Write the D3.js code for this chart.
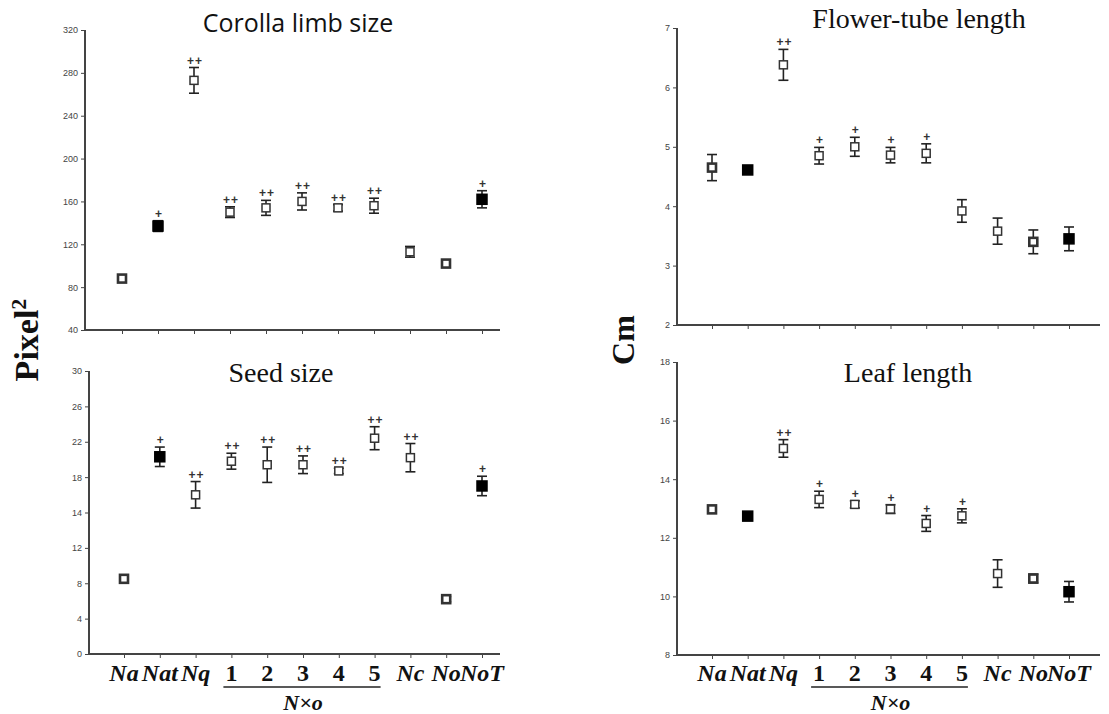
<!DOCTYPE html>
<html>
<head>
<meta charset="utf-8">
<script src="https://cdn.jsdelivr.net/npm/d3@7"></script>
<style>
  body { margin: 0; background: #fff; }
  svg { display: block; }
</style>
</head>
<body>
<div id="viz"></div>
<script>
// categories along every x axis
var cats = ["Na", "Nat", "Nq", "1", "2", "3", "4", "5", "Nc", "No", "NoT"];
var marker = ["bold", "filled", "open", "open", "open", "open", "open", "open", "open", "bold", "filled"];

// Corolla limb size (pixel^2)
var corollaMean = [88, 137, 273, 150, 154, 160, 154, 156, 113, 102, 162];
var corollaErr  = [3, 5, 12, 5, 7, 8, 3, 7, 5, 3, 8];
var corollaSig  = ["", "+", "++", "++", "++", "++", "++", "++", "", "", "+"];
var corollaTicks = [40, 80, 120, 160, 200, 240, 280, 320];

// Seed size (pixel^2) - the axis labels are unevenly spaced in the original
var seedMean = [8.5, 20.3, 16.0, 19.8, 19.4, 19.4, 18.7, 22.4, 20.2, 6.2, 17.0];
var seedErr  = [0.4, 1.1, 1.5, 0.9, 2.0, 1.0, 0.3, 1.3, 1.6, 0.3, 1.1];
var seedSig  = ["", "+", "++", "++", "++", "++", "++", "++", "++", "", "+"];
var seedTicks = [0, 4, 8, 12, 14, 18, 22, 26, 30];

// Flower-tube length (cm)
var tubeMean = [4.65, 4.61, 6.38, 4.85, 5.0, 4.86, 4.89, 3.92, 3.58, 3.40, 3.45];
var tubeErr  = [0.22, 0.04, 0.26, 0.14, 0.16, 0.13, 0.16, 0.19, 0.22, 0.2, 0.2];
var tubeSig  = ["", "", "++", "+", "+", "+", "+", "", "", "", ""];
var tubeTicks = [2, 3, 4, 5, 6, 7];

// Leaf length (cm)
var leafMean = [12.97, 12.74, 15.05, 13.31, 13.14, 12.98, 12.49, 12.75, 10.78, 10.61, 10.16];
var leafErr  = [0.05, 0.1, 0.3, 0.28, 0.12, 0.15, 0.27, 0.24, 0.47, 0.15, 0.35];
var leafSig  = ["", "", "++", "+", "+", "+", "+", "+", "", "", ""];
var leafTicks = [8, 10, 12, 14, 16, 18];

var svg = d3.select("#viz").append("svg").attr("width", 1109).attr("height", 714);

function panel(o) {
  var g = svg.append("g");
  var x = d3.scalePoint().domain(cats).range([o.x0, o.x1]);
  // piecewise scale so ticks sit evenly even when labels are not
  var y = d3.scaleLinear()
    .domain(o.ticks)
    .range(o.ticks.map(function(d, i) { return o.bottom - i * (o.bottom - o.top) / (o.ticks.length - 1); }));

  var ya = g.append("g").attr("transform", "translate(" + o.ax + ",0)")
    .call(d3.axisLeft(y).tickValues(o.ticks).tickSize(4).tickSizeOuter(0).tickFormat(d3.format("d")));
  ya.select(".domain").remove();
  ya.selectAll("line").attr("stroke", "#444");
  ya.selectAll("text").style("font-family", "Liberation Sans, Arial").style("font-size", "9px").attr("fill", "#444");

  var xa = g.append("g").attr("transform", "translate(0," + o.bottom + ")")
    .call(d3.axisBottom(x).tickSize(4).tickFormat(""));
  xa.select(".domain").remove();
  xa.selectAll("line").attr("stroke", "#444");

  g.append("line").attr("x1", o.ax).attr("x2", o.ax).attr("y1", o.top).attr("y2", o.bottom)
    .attr("stroke", "#444").attr("stroke-width", 2);
  g.append("line").attr("x1", o.ax - 1).attr("x2", o.xEnd).attr("y1", o.bottom).attr("y2", o.bottom)
    .attr("stroke", "#444").attr("stroke-width", 2);

  g.append("text").attr("x", o.tx).attr("y", o.ty).attr("text-anchor", "middle")
    .style("font-family", o.tfont).style("font-size", o.tsize + "px").attr("fill", "#111")
    .text(o.title);

  var pts = g.selectAll(".pt").data(cats).enter().append("g").attr("class", "pt")
    .attr("transform", function(d) { return "translate(" + x(d) + ",0)"; });

  pts.append("line")
    .attr("y1", function(d, i) { return y(o.mean[i] + o.err[i]); })
    .attr("y2", function(d, i) { return y(o.mean[i] - o.err[i]); })
    .attr("stroke", "#222").attr("stroke-width", 1.6);
  pts.append("line").attr("x1", -5).attr("x2", 5)
    .attr("y1", function(d, i) { return y(o.mean[i] + o.err[i]); })
    .attr("y2", function(d, i) { return y(o.mean[i] + o.err[i]); })
    .attr("stroke", "#222").attr("stroke-width", 1.6);
  pts.append("line").attr("x1", -5).attr("x2", 5)
    .attr("y1", function(d, i) { return y(o.mean[i] - o.err[i]); })
    .attr("y2", function(d, i) { return y(o.mean[i] - o.err[i]); })
    .attr("stroke", "#222").attr("stroke-width", 1.6);

  pts.append("rect")
    .attr("x", function(d, i) { return marker[i] == "filled" ? -5 : -4; })
    .attr("y", function(d, i) { return y(o.mean[i]) - (marker[i] == "filled" ? 5 : 4); })
    .attr("width", function(d, i) { return marker[i] == "filled" ? 10 : 8; })
    .attr("height", function(d, i) { return marker[i] == "filled" ? 10 : 8; })
    .attr("fill", function(d, i) { return marker[i] == "filled" ? "#000" : "#fff"; })
    .attr("stroke", function(d, i) { return marker[i] == "filled" ? "#000" : "#333"; })
    .attr("stroke-width", function(d, i) { return marker[i] == "bold" ? 2.6 : 1.5; });

  pts.append("text")
    .attr("x", 1)
    .attr("y", function(d, i) { return y(o.mean[i] + o.err[i]) - 3; })
    .attr("text-anchor", "middle")
    .style("font-family", "Liberation Sans, Arial").style("font-size", "12px").style("font-weight", "bold")
    .style("letter-spacing", "1px")
    .attr("fill", "#333")
    .text(function(d, i) { return o.sig[i]; });

  return x;
}

function catLabels(x) {
  var g = svg.append("g");
  g.selectAll("text").data(cats).enter().append("text")
    .attr("x", function(d) { return x(d); })
    .attr("y", 681)
    .attr("text-anchor", "middle")
    .style("font-family", "Liberation Serif, Times New Roman")
    .style("font-size", "24px").style("font-weight", "bold")
    .style("font-style", function(d) { return isNaN(+d) ? "italic" : "normal"; })
    .attr("fill", "#111")
    .text(function(d) { return d; });
  g.append("line").attr("x1", x("1") - 8).attr("x2", x("5") + 6).attr("y1", 687).attr("y2", 687)
    .attr("stroke", "#222").attr("stroke-width", 1.5);
  g.append("text").attr("x", (x("1") + x("5")) / 2).attr("y", 710).attr("text-anchor", "middle")
    .style("font-family", "Liberation Serif, Times New Roman").style("font-size", "22px")
    .style("font-weight", "bold").style("font-style", "italic").attr("fill", "#111")
    .text("N×o");
}

panel({ax: 85, top: 30, bottom: 330, x0: 122, x1: 482, xEnd: 500, ticks: corollaTicks,
  mean: corollaMean, err: corollaErr, sig: corollaSig,
  title: "Corolla limb size", tx: 298, ty: 32, tfont: "Open Sans, Liberation Sans", tsize: 25});
var xl = panel({ax: 89, top: 371, bottom: 654, x0: 124, x1: 482, xEnd: 500, ticks: seedTicks,
  mean: seedMean, err: seedErr, sig: seedSig,
  title: "Seed size", tx: 281, ty: 382, tfont: "Liberation Serif, Times New Roman", tsize: 28});
panel({ax: 677, top: 28, bottom: 325, x0: 712, x1: 1069, xEnd: 1100, ticks: tubeTicks,
  mean: tubeMean, err: tubeErr, sig: tubeSig,
  title: "Flower-tube length", tx: 919, ty: 28, tfont: "Liberation Serif, Times New Roman", tsize: 28});
var xr = panel({ax: 677, top: 362, bottom: 655, x0: 712, x1: 1069, xEnd: 1100, ticks: leafTicks,
  mean: leafMean, err: leafErr, sig: leafSig,
  title: "Leaf length", tx: 908, ty: 382, tfont: "Liberation Serif, Times New Roman", tsize: 28});

catLabels(xl);
catLabels(xr);

// y axis titles
var pix = svg.append("text").attr("transform", "translate(38,340) rotate(-90)").attr("text-anchor", "middle")
  .style("font-family", "Liberation Serif, Times New Roman").style("font-size", "34px").style("font-weight", "bold")
  .attr("fill", "#111");
pix.append("tspan").text("Pixel");
pix.append("tspan").attr("dy", -12).style("font-size", "22px").text("2");

svg.append("text").attr("transform", "translate(634,340) rotate(-90)").attr("text-anchor", "middle")
  .style("font-family", "Liberation Serif, Times New Roman").style("font-size", "32px").style("font-weight", "bold")
  .attr("fill", "#111").text("Cm");
</script>
</body>
</html>
